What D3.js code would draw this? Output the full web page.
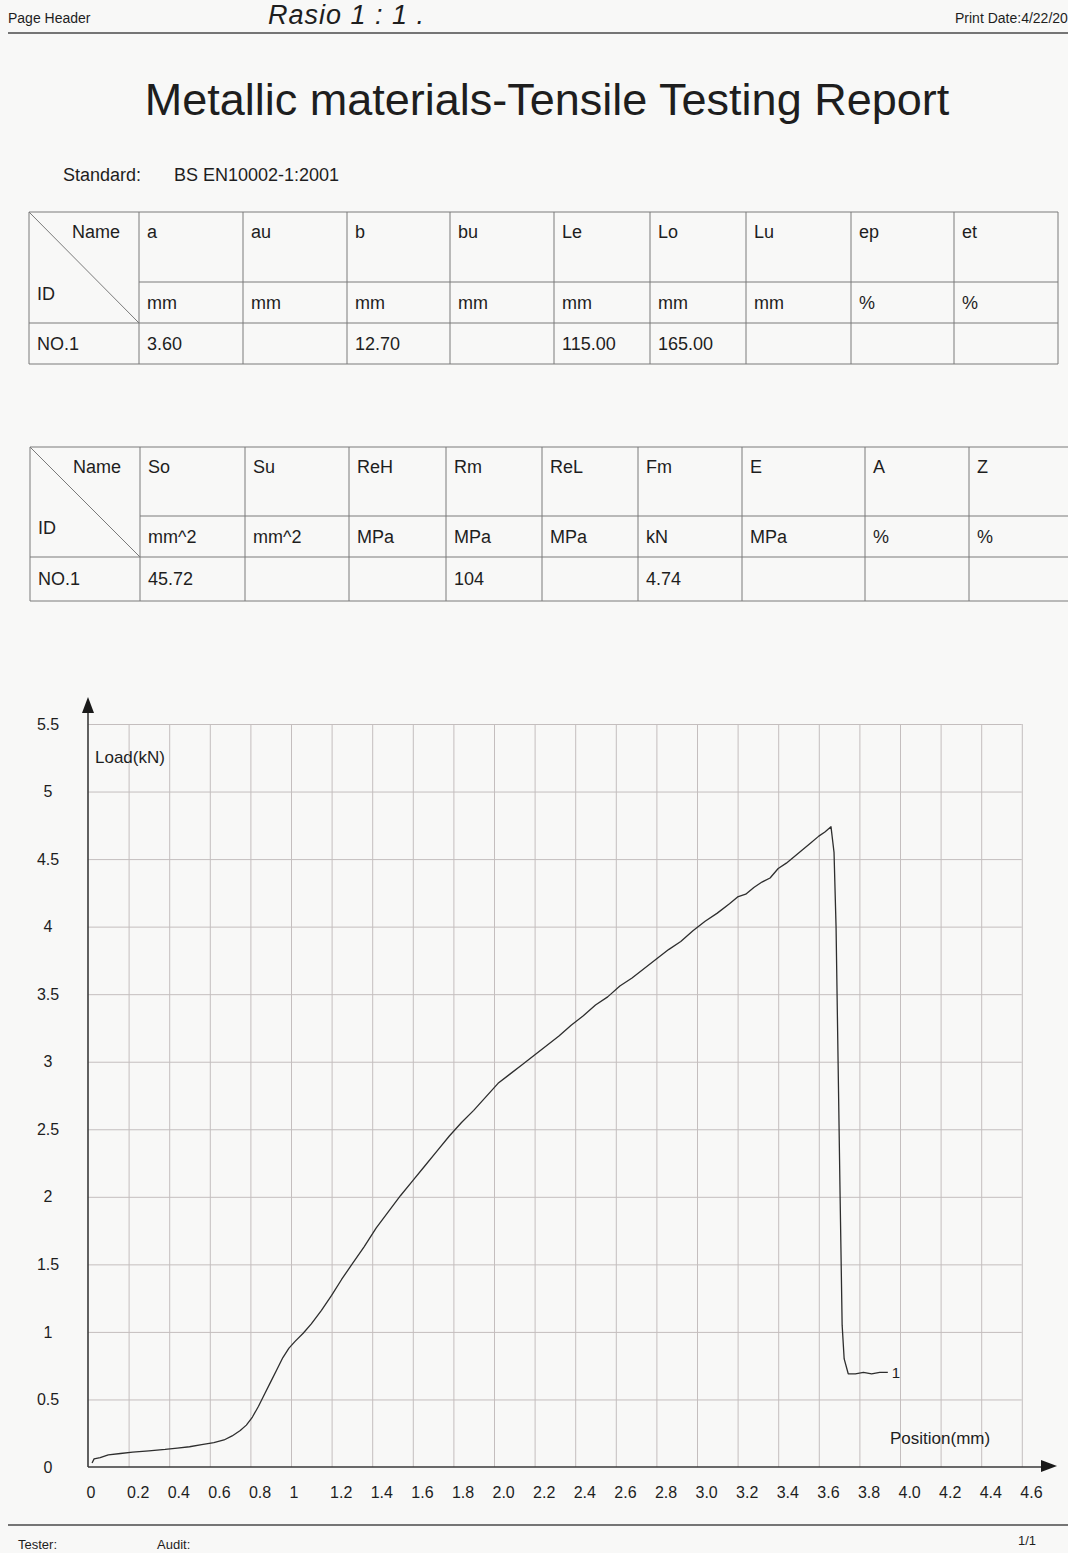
<!DOCTYPE html>
<html>
<head>
<meta charset="utf-8">
<title>Metallic materials-Tensile Testing Report</title>
<script src="https://cdn.jsdelivr.net/npm/d3@7/dist/d3.min.js"></script>
<style>
  html, body { margin: 0; padding: 0; background: #f8f8f7; }
  svg { display: block; }
  text { font-family: "Liberation Sans", Arial, sans-serif; fill: #1e1e1e; }
</style>
</head>
<body>
<svg id="page" width="1068" height="1553"></svg>
<script>
// ---- report data ----
const reportTitle = "Metallic materials-Tensile Testing Report";
const standardName = "BS EN10002-1:2001";

const dimNames  = ["a", "au", "b", "bu", "Le", "Lo", "Lu", "ep", "et"];
const dimUnits  = ["mm", "mm", "mm", "mm", "mm", "mm", "mm", "%", "%"];
const dimValues = ["3.60", "", "12.70", "", "115.00", "165.00", "", "", ""];

const resNames  = ["So", "Su", "ReH", "Rm", "ReL", "Fm", "E", "A", "Z"];
const resUnits  = ["mm^2", "mm^2", "MPa", "MPa", "MPa", "kN", "MPa", "%", "%"];
const resValues = ["45.72", "", "", "104", "", "4.74", "", "", ""];

const specimenId = "NO.1";

// load-position curve of specimen 1
const positionMm = [0.02, 0.03, 0.06, 0.10, 0.16, 0.22, 0.30, 0.38, 0.44, 0.50, 0.56, 0.62, 0.67, 0.71, 0.75,
  0.78, 0.81, 0.84, 0.87, 0.90, 0.93, 0.96, 0.99, 1.02, 1.06, 1.10, 1.15, 1.20, 1.25, 1.30, 1.36, 1.42,
  1.48, 1.54, 1.60, 1.66, 1.72, 1.78, 1.84, 1.90, 1.96, 2.02, 2.08, 2.14, 2.20, 2.26, 2.32, 2.38, 2.44,
  2.50, 2.56, 2.62, 2.68, 2.74, 2.80, 2.86, 2.92, 2.98, 3.04, 3.10, 3.16, 3.20, 3.24, 3.28, 3.32, 3.36,
  3.40, 3.44, 3.48, 3.52, 3.56, 3.60, 3.63, 3.66, 3.675, 3.685, 3.695, 3.705, 3.715, 3.725, 3.745,
  3.78, 3.82, 3.86, 3.90, 3.94];
const loadKn = [0.03, 0.06, 0.07, 0.09, 0.10, 0.11, 0.12, 0.13, 0.14, 0.15, 0.165, 0.18, 0.20, 0.23, 0.27,
  0.31, 0.37, 0.45, 0.54, 0.63, 0.72, 0.81, 0.88, 0.93, 0.99, 1.06, 1.16, 1.27, 1.39, 1.50, 1.63, 1.77,
  1.89, 2.01, 2.12, 2.23, 2.34, 2.45, 2.55, 2.64, 2.74, 2.84, 2.91, 2.98, 3.05, 3.12, 3.19, 3.27, 3.34,
  3.42, 3.48, 3.56, 3.62, 3.69, 3.76, 3.83, 3.89, 3.97, 4.04, 4.10, 4.17, 4.22, 4.24, 4.29, 4.33, 4.36,
  4.43, 4.47, 4.52, 4.57, 4.62, 4.67, 4.70, 4.74, 4.55, 4.00, 3.00, 2.00, 1.05, 0.80, 0.69,
  0.69, 0.70, 0.69, 0.70, 0.70];
const curveLabel = "1";

const xTickValues = [0, 0.2, 0.4, 0.6, 0.8, 1.0, 1.2, 1.4, 1.6, 1.8, 2.0, 2.2, 2.4, 2.6, 2.8, 3.0, 3.2, 3.4, 3.6, 3.8, 4.0, 4.2, 4.4, 4.6];
const xTickLabels = ["0", "0.2", "0.4", "0.6", "0.8", "1", "1.2", "1.4", "1.6", "1.8", "2.0", "2.2", "2.4", "2.6", "2.8", "3.0", "3.2", "3.4", "3.6", "3.8", "4.0", "4.2", "4.4", "4.6"];
const yTickValues = [0, 0.5, 1, 1.5, 2, 2.5, 3, 3.5, 4, 4.5, 5, 5.5];
const yTickLabels = ["0", "0.5", "1", "1.5", "2", "2.5", "3", "3.5", "4", "4.5", "5", "5.5"];

// ---- page layout ----
const svg = d3.select("#page");
const ink = "#1e1e1e";

// page header
svg.append("text").attr("x", 8).attr("y", 23).attr("font-size", 14).text("Page Header");
svg.append("text").attr("x", 268).attr("y", 24)
  .attr("font-family", "'DejaVu Serif', serif").attr("font-style", "italic")
  .attr("font-size", 27).attr("fill", "#222").attr("letter-spacing", 1)
  .text("Rasio  1 : 1 .");
svg.append("text").attr("x", 955).attr("y", 23).attr("font-size", 14).text("Print Date:4/22/20");
svg.append("line").attr("x1", 8).attr("x2", 1068).attr("y1", 33).attr("y2", 33)
  .attr("stroke", "#4a4a4a").attr("stroke-width", 1.6);

// title and standard
svg.append("text").attr("x", 547).attr("y", 115).attr("text-anchor", "middle")
  .attr("font-size", 45).attr("fill", "#141414").text(reportTitle);
svg.append("text").attr("x", 63).attr("y", 181).attr("font-size", 18).text("Standard:");
svg.append("text").attr("x", 174).attr("y", 181).attr("font-size", 18).text(standardName);

// result tables
function drawTable(cols, rows, names, units, values) {
  const g = svg.append("g");
  const stroke = "#7a7a7a";
  const right = cols[cols.length - 1];
  rows.forEach((r, i) => g.append("line").attr("x1", i === 1 ? cols[1] : cols[0]).attr("x2", right)
    .attr("y1", r).attr("y2", r).attr("stroke", stroke).attr("stroke-width", 1));
  cols.forEach(c => g.append("line").attr("x1", c).attr("x2", c)
    .attr("y1", rows[0]).attr("y2", rows[3]).attr("stroke", stroke).attr("stroke-width", 1));
  // diagonal splitting the corner cell
  g.append("line").attr("x1", cols[0]).attr("y1", rows[0]).attr("x2", cols[1]).attr("y2", rows[2])
    .attr("stroke", stroke).attr("stroke-width", 1);

  const unitMid = (rows[1] + rows[2]) / 2;
  const dataMid = (rows[2] + rows[3]) / 2;
  g.append("text").attr("x", cols[1] - 19).attr("y", rows[0] + 26).attr("text-anchor", "end")
    .attr("font-size", 18).text("Name");
  g.append("text").attr("x", cols[0] + 8).attr("y", unitMid - 3).attr("font-size", 18).text("ID");
  g.append("text").attr("x", cols[0] + 8).attr("y", dataMid + 6).attr("font-size", 18).text(specimenId);

  names.forEach((n, i) => {
    const x = cols[i + 1] + 8;
    g.append("text").attr("x", x).attr("y", rows[0] + 26).attr("font-size", 18).text(n);
    g.append("text").attr("x", x).attr("y", unitMid + 6).attr("font-size", 18).text(units[i]);
    if (values[i]) g.append("text").attr("x", x).attr("y", dataMid + 6).attr("font-size", 18).text(values[i]);
  });
}
drawTable([29, 139, 243, 347, 450, 554, 650, 746, 851, 954, 1058], [212, 282, 323, 364],
  dimNames, dimUnits, dimValues);
drawTable([30, 140, 245, 349, 446, 542, 638, 742, 865, 969, 1073], [447, 516, 557, 601],
  resNames, resUnits, resValues);

// ---- load / position chart ----
const x = d3.scaleLinear().domain([0, 4.6]).range([88, 1021.8]);
const y = d3.scaleLinear().domain([0, 5.5]).range([1467, 724]);
const plot = svg.append("g");
const gridColor = "#c4bebe";

// grid
plot.append("g").attr("transform", `translate(0,${y(0)})`)
  .call(d3.axisBottom(x).tickValues(xTickValues.slice(1)).tickSize(y(5.5) - y(0)).tickFormat(""))
  .call(g => g.select(".domain").remove())
  .call(g => g.selectAll("line").attr("stroke", gridColor).attr("stroke-width", 1));
plot.append("g").attr("transform", `translate(${x(0)},0)`)
  .call(d3.axisLeft(y).tickValues(yTickValues.slice(1)).tickSize(x(0) - x(4.6)).tickFormat(""))
  .call(g => g.select(".domain").remove())
  .call(g => g.selectAll("line").attr("stroke", gridColor).attr("stroke-width", 1));

// tick labels
plot.append("g").attr("transform", `translate(0,${y(0)})`)
  .call(d3.axisBottom(x).tickValues(xTickValues).tickSize(0).tickPadding(20)
    .tickFormat((d, i) => xTickLabels[i]))
  .call(g => g.select(".domain").remove())
  .call(g => g.selectAll("text").attr("text-anchor", "start").attr("dx", -2)
    .attr("font-size", 16).attr("fill", ink).attr("font-family", null));
plot.append("g").attr("transform", `translate(48,0)`)
  .call(d3.axisLeft(y).tickValues(yTickValues).tickSize(0).tickPadding(0)
    .tickFormat((d, i) => yTickLabels[i]))
  .call(g => g.select(".domain").remove())
  .call(g => g.selectAll("text").attr("text-anchor", "middle")
    .attr("font-size", 16).attr("fill", ink).attr("font-family", null));

// axes with arrow heads
plot.append("line").attr("x1", x(0)).attr("x2", x(0)).attr("y1", y(0)).attr("y2", 708)
  .attr("stroke", "#3a3a3a").attr("stroke-width", 1.6);
plot.append("path").attr("d", `M${x(0)},697 L${x(0) - 6},713 L${x(0) + 6},713 Z`).attr("fill", "#1a1a1a");
plot.append("line").attr("x1", x(0)).attr("x2", 1046).attr("y1", y(0)).attr("y2", y(0))
  .attr("stroke", "#3a3a3a").attr("stroke-width", 1.6);
plot.append("path").attr("d", `M1057,${y(0) - 1} L1041,${y(0) - 7} L1041,${y(0) + 5} Z`).attr("fill", "#1a1a1a");

// axis titles
plot.append("text").attr("x", 95).attr("y", 763).attr("font-size", 17).text("Load(kN)");
plot.append("text").attr("x", 890).attr("y", 1444).attr("font-size", 17).text("Position(mm)");

// curve
const line = d3.line().x(d => x(d[0])).y(d => y(d[1]));
const pts = positionMm.map((p, i) => [p, loadKn[i]]);
plot.append("path").datum(pts).attr("d", line)
  .attr("fill", "none").attr("stroke", "#2e2e2e").attr("stroke-width", 1.3)
  .attr("stroke-linejoin", "round");
const last = pts[pts.length - 1];
plot.append("text").attr("x", x(last[0]) + 4).attr("y", y(last[1]) + 6)
  .attr("font-size", 15).text(curveLabel);

// footer
svg.append("line").attr("x1", 8).attr("x2", 1068).attr("y1", 1525).attr("y2", 1525)
  .attr("stroke", "#4a4a4a").attr("stroke-width", 1.6);
svg.append("text").attr("x", 18).attr("y", 1549).attr("font-size", 13).text("Tester:");
svg.append("text").attr("x", 157).attr("y", 1549).attr("font-size", 13).text("Audit:");
svg.append("text").attr("x", 1018).attr("y", 1545).attr("font-size", 13).text("1/1");
</script>
</body>
</html>
